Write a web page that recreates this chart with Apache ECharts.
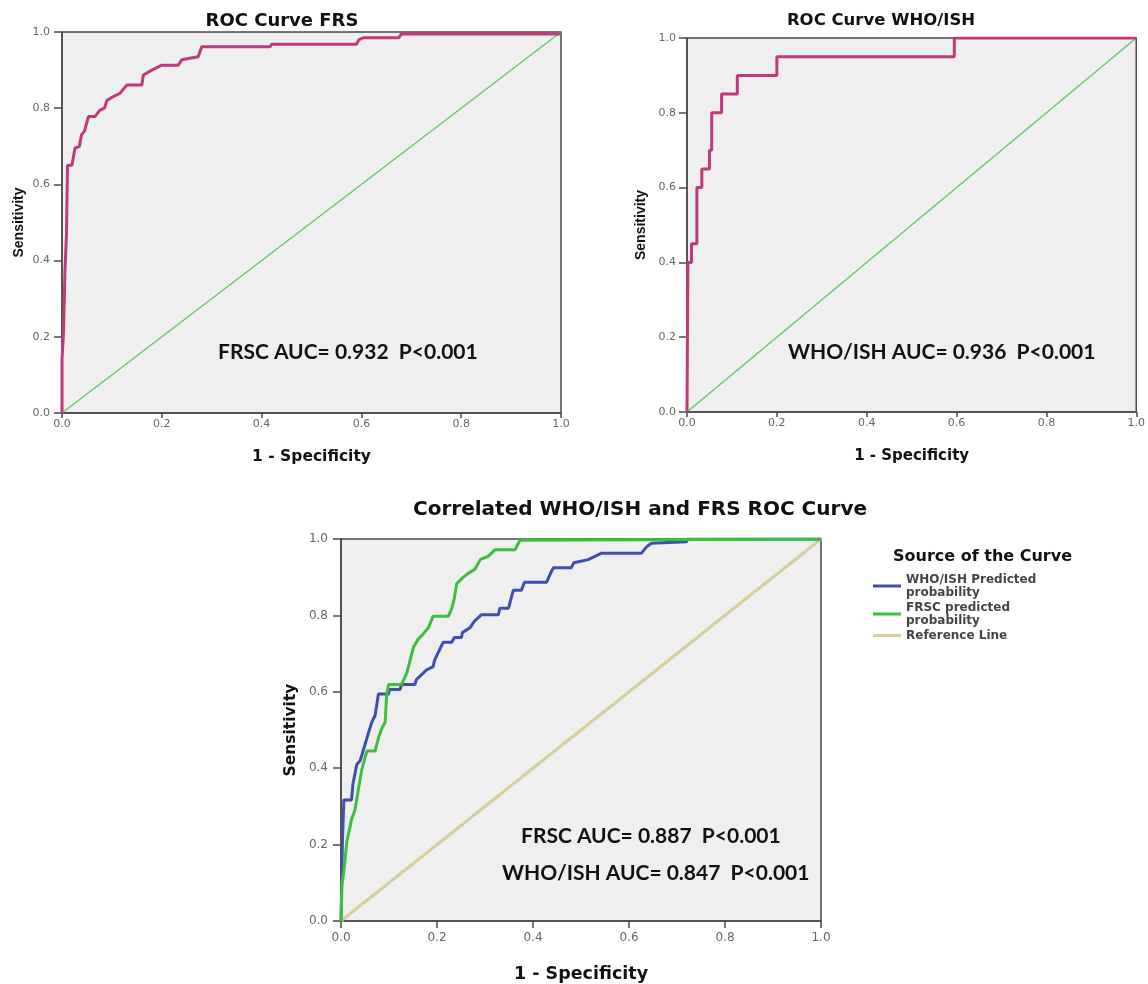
<!DOCTYPE html>
<html><head><meta charset="utf-8">
<script src="https://cdn.jsdelivr.net/npm/echarts@6/dist/echarts.min.js"></script>
<style>html,body{margin:0;padding:0;background:#fff}#c{width:1148px;height:984px}</style>
</head><body><div id="c"></div>
<script>
// Panel 1: FRS ROC curve
const frsFpr = [0,0,0.003,0.003,0.006,0.006,0.009,0.009,0.011,0.011,0.02,0.026,0.035,0.039,0.045,0.053,0.066,0.076,0.085,0.09,0.102,0.116,0.13,0.16,0.163,0.18,0.2,0.233,0.24,0.273,0.28,0.417,0.42,0.59,0.595,0.605,0.675,0.68,1.0];
const frsTpr = [0,0.14,0.14,0.21,0.21,0.375,0.375,0.47,0.47,0.65,0.65,0.695,0.70,0.73,0.74,0.778,0.778,0.795,0.80,0.82,0.83,0.839,0.861,0.861,0.887,0.90,0.913,0.913,0.927,0.935,0.961,0.961,0.968,0.968,0.98,0.985,0.985,0.995,0.995];
// Panel 2: WHO/ISH ROC curve
const whoFpr = [0,0.002,0.01,0.01,0.022,0.022,0.033,0.033,0.05,0.05,0.055,0.055,0.077,0.077,0.112,0.112,0.2,0.2,0.595,0.595,1.0];
const whoTpr = [0,0.40,0.40,0.45,0.45,0.60,0.60,0.65,0.65,0.70,0.70,0.80,0.80,0.85,0.85,0.90,0.90,0.95,0.95,1.0,1.0];
// Panel 3: correlated curves
const corrWhoFpr = [0,0.003,0.006,0.022,0.025,0.033,0.04,0.054,0.064,0.071,0.078,0.099,0.101,0.123,0.126,0.154,0.157,0.168,0.178,0.192,0.195,0.203,0.213,0.231,0.236,0.251,0.253,0.269,0.278,0.293,0.328,0.331,0.349,0.359,0.376,0.382,0.4285,0.439,0.443,0.48,0.485,0.515,0.543,0.564,0.626,0.637,0.647,0.72,0.722,1.0];
const corrWhoTpr = [0,0.21,0.317,0.317,0.36,0.41,0.42,0.479,0.52,0.538,0.594,0.594,0.606,0.606,0.619,0.619,0.632,0.645,0.657,0.666,0.683,0.704,0.73,0.73,0.742,0.742,0.755,0.768,0.785,0.802,0.802,0.819,0.819,0.866,0.866,0.887,0.887,0.917,0.925,0.925,0.938,0.946,0.963,0.963,0.963,0.98,0.989,0.993,1.0,1.0];
const corrFrsFpr = [0,0.002,0.006,0.012,0.022,0.029,0.036,0.043,0.05,0.054,0.071,0.078,0.085,0.092,0.095,0.099,0.126,0.137,0.144,0.151,0.161,0.171,0.182,0.192,0.2236,0.23,0.236,0.241,0.255,0.265,0.279,0.29,0.307,0.321,0.3625,0.373,0.376,1.0];
const corrFrsTpr = [0,0.096,0.13,0.207,0.266,0.29,0.343,0.394,0.428,0.445,0.445,0.479,0.504,0.521,0.589,0.619,0.619,0.649,0.683,0.717,0.738,0.751,0.768,0.798,0.798,0.815,0.844,0.883,0.90,0.91,0.921,0.946,0.955,0.972,0.972,0.997,1.0,1.0];
const refX = [0,1];
const refY = [0,1];
const tickLabels = ['0.0','0.2','0.4','0.6','0.8','1.0'];
const seriesNames = ['WHO/ISH Predicted\nprobability','FRSC predicted\nprobability','Reference Line'];

const zip = (a,b)=>a.map((v,i)=>[v,b[i]]);
const chart = echarts.init(document.getElementById('c'));
const fmt = v => tickLabels[Math.round(v*5)];
const AX = '#4a4a4a';
function xAx(gi, nameFont, nameSize, gap, lblSize, tickLen, margin){
  return {type:'value',gridIndex:gi,min:0,max:1,interval:0.2,name:'1 - Specificity',nameLocation:'middle',nameGap:gap,
    nameTextStyle:{fontFamily:nameFont,fontWeight:'bold',fontSize:nameSize,color:'#111'},
    axisLine:{lineStyle:{color:AX,width:1.5}},axisTick:{show:true,length:tickLen,lineStyle:{color:AX,width:1.5}},
    axisLabel:{formatter:fmt,fontFamily:'DejaVu Sans',fontSize:lblSize,color:'#666',margin:margin},splitLine:{show:false}};
}
function yAx(gi, nameFont, nameSize, gap, lblSize, tickLen, margin){
  return {type:'value',gridIndex:gi,min:0,max:1,interval:0.2,name:'Sensitivity',nameLocation:'middle',nameGap:gap,
    nameTextStyle:{fontFamily:nameFont,fontWeight:'bold',fontSize:nameSize,color:'#111'},
    axisLine:{lineStyle:{color:AX,width:1.5}},axisTick:{show:true,length:tickLen,lineStyle:{color:AX,width:1.5}},
    axisLabel:{formatter:fmt,fontFamily:'DejaVu Sans',fontSize:lblSize,color:'#666',margin:margin},splitLine:{show:false}};
}
const gridStyle = {show:true,backgroundColor:'#efefef',borderColor:AX,borderWidth:1.5};
const annot = (x,y,t,size)=>({type:'text',left:x,top:y,style:{text:t,font:'bold '+size+'px Lato',fill:'#111'}});
const magenta = '#c0397a';
const option = {
  animation:false,
  backgroundColor:'#fff',
  title:[
    {text:'ROC Curve FRS',left:277,top:7,textAlign:'center',textStyle:{fontFamily:'DejaVu Sans',fontWeight:'bold',fontSize:18,color:'#111'}},
    {text:'ROC Curve WHO/ISH',left:876,top:7,textAlign:'center',textStyle:{fontFamily:'DejaVu Sans',fontWeight:'bold',fontSize:16.5,color:'#111'}},
    {text:'Correlated WHO/ISH and FRS ROC Curve',left:635,top:495,textAlign:'center',textStyle:{fontFamily:'DejaVu Sans',fontWeight:'bold',fontSize:20,color:'#111'}},
    {text:'Source of the Curve',left:888,top:544,textStyle:{fontFamily:'DejaVu Sans',fontWeight:'bold',fontSize:16,color:'#111'}}
  ],
  grid:[
    Object.assign({left:62,top:32,width:499,height:381},gridStyle),
    Object.assign({left:687,top:38,width:450,height:374},gridStyle),
    Object.assign({left:341,top:539,width:480,height:392},gridStyle)
  ],
  xAxis:[xAx(0,'DejaVu Sans',15.5,36,11,5,6),xAx(1,'DejaVu Sans',15,37,11,5,6),xAx(2,'DejaVu Sans',17.5,44,12,7,11)],
  yAxis:[yAx(0,'Liberation Sans',14,36,11,8,12),yAx(1,'Liberation Sans',14,39,11,8,11),yAx(2,'DejaVu Sans',15.5,42,12,8,13)],
  legend:{data:seriesNames,orient:'vertical',left:868,top:568,itemGap:2,itemWidth:28,itemHeight:3,icon:'rect',
    textStyle:{fontFamily:'DejaVu Sans',fontWeight:'bold',fontSize:12,color:'#444',lineHeight:13}},
  graphic:[
    annot(218,342,'FRSC AUC= 0.932  P<0.001',21),
    annot(788,342,'WHO/ISH AUC= 0.936  P<0.001',21),
    annot(521,826,'FRSC AUC= 0.887  P<0.001',21),
    annot(502,863,'WHO/ISH AUC= 0.847  P<0.001',21)
  ],
  series:[
    {type:'line',xAxisIndex:0,yAxisIndex:0,data:zip(refX,refY),symbol:'none',lineStyle:{color:'#5cc85c',width:1.2},z:2},
    {type:'line',xAxisIndex:0,yAxisIndex:0,data:zip(frsFpr,frsTpr),symbol:'none',lineStyle:{color:magenta,width:3},z:3},
    {type:'line',xAxisIndex:1,yAxisIndex:1,data:zip(refX,refY),symbol:'none',lineStyle:{color:'#5cc85c',width:1.2},z:2},
    {type:'line',xAxisIndex:1,yAxisIndex:1,data:zip(whoFpr,whoTpr),symbol:'none',lineStyle:{color:magenta,width:3},z:3},
    {name:seriesNames[2],type:'line',xAxisIndex:2,yAxisIndex:2,data:zip(refX,refY),symbol:'none',itemStyle:{color:'#d6cf9a'},lineStyle:{color:'#d6cf9a',width:3},z:2},
    {name:seriesNames[0],type:'line',xAxisIndex:2,yAxisIndex:2,data:zip(corrWhoFpr,corrWhoTpr),symbol:'none',itemStyle:{color:'#3f4fae'},lineStyle:{color:'#3f4fae',width:3},z:3},
    {name:seriesNames[1],type:'line',xAxisIndex:2,yAxisIndex:2,data:zip(corrFrsFpr,corrFrsTpr),symbol:'none',itemStyle:{color:'#3cbf3c'},lineStyle:{color:'#3cbf3c',width:3},z:4}
  ]
};
chart.setOption(option);
</script></body></html>
